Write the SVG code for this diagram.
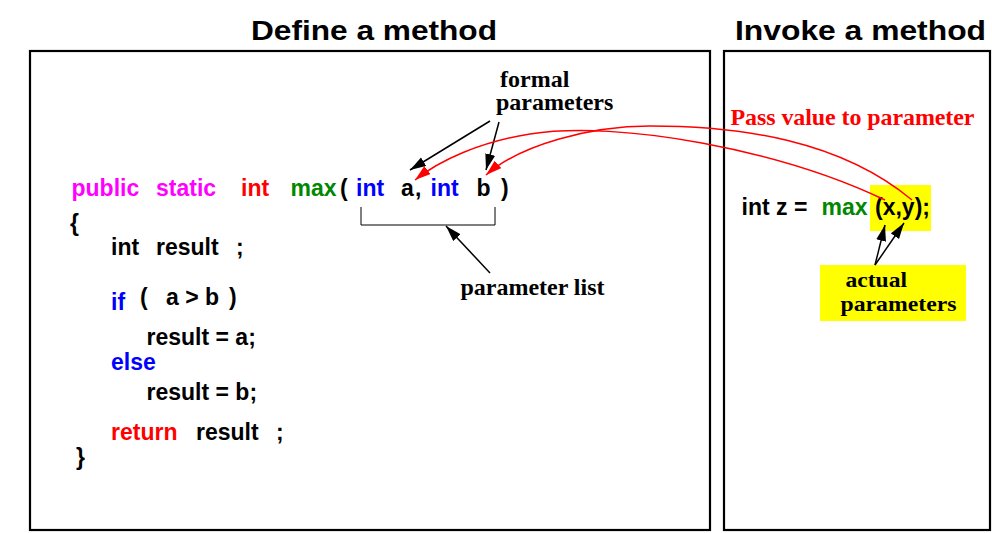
<svg xmlns="http://www.w3.org/2000/svg" width="992" height="533" viewBox="0 0 992 533">
<style>
.code{font-family:"Liberation Sans",Arial,sans-serif;font-weight:bold;font-size:23px;fill:#000}
.head{font-family:"Liberation Sans",Arial,sans-serif;font-weight:bold;font-size:28px;fill:#000}
.lab{font-family:"Liberation Serif","Times New Roman",serif;font-weight:bold;font-size:24px;fill:#000}
.lab2{font-family:"Liberation Serif","Times New Roman",serif;font-weight:bold;font-size:22px;fill:#000}
.mag{fill:#ff00ff}.red{fill:#ff0000}.grn{fill:#008800}.blu{fill:#0000ff}
.box{fill:#fff;stroke:#000;stroke-width:2.2}
.blk{fill:none;stroke:#000;stroke-width:1.5;marker-end:url(#ab)}
.rc{fill:none;stroke:#ff0000;stroke-width:1.5;marker-end:url(#ar)}
</style>
<defs>
<marker id="ab" markerUnits="userSpaceOnUse" markerWidth="18" markerHeight="12" refX="16" refY="5" orient="auto"><path d="M0,0 L16,5 L0,10 z" fill="#000"/></marker>
<marker id="ar" markerUnits="userSpaceOnUse" markerWidth="18" markerHeight="12" refX="16" refY="5" orient="auto"><path d="M0,0 L16,5 L0,10 z" fill="#ff0000"/></marker>
</defs>
<rect width="992" height="533" fill="#fff"/>
<g id="define-box">
<rect class="box" x="30" y="51" width="680" height="479"/>
<text class="head" x="251" y="39.5" textLength="246" lengthAdjust="spacingAndGlyphs">Define a method</text>
</g>
<g id="invoke-box">
<rect class="box" x="724" y="51" width="266" height="479"/>
<text class="head" x="735" y="39.5" textLength="251" lengthAdjust="spacingAndGlyphs">Invoke a method</text>
</g>
<g id="code">
<text class="code" y="196"><tspan class="mag" x="71.5">public</tspan><tspan class="mag" x="156">static</tspan><tspan class="red" x="241">int</tspan><tspan class="grn" x="290.5">max</tspan><tspan x="340">(</tspan><tspan class="blu" x="356">int</tspan><tspan x="401">a</tspan><tspan x="415">,</tspan><tspan class="blu" x="430.5">int</tspan><tspan x="476.5">b</tspan><tspan x="501">)</tspan></text>
<text class="code" x="70" y="231">{</text>
<text class="code" y="255"><tspan x="111">int</tspan><tspan x="156">result</tspan><tspan x="236">;</tspan></text>
<text class="code blu" x="111" y="310">if</text>
<text class="code" y="305"><tspan x="140">(</tspan><tspan x="166">a &gt; b</tspan><tspan x="229">)</tspan></text>
<text class="code" x="146.5" y="345">result = a;</text>
<text class="code blu" x="111" y="370">else</text>
<text class="code" x="146.5" y="400">result = b;</text>
<text class="code" y="440"><tspan class="red" x="111">return</tspan><tspan x="196">result</tspan><tspan x="276">;</tspan></text>
<text class="code" x="76" y="465">}</text>
</g>
<g id="bracket">
<path d="M361,207 V225 H495 V207" fill="none" stroke="#000" stroke-width="1"/>
</g>
<g id="formal-label">
<text class="lab" x="500" y="86.5">formal</text>
<text class="lab" x="496" y="110">parameters</text>
</g>
<g id="paramlist-label">
<text class="lab" x="460.5" y="295" textLength="144" lengthAdjust="spacing">parameter list</text>
</g>
<g id="call">
<rect x="870" y="185" width="61" height="46" fill="#ffff00"/>
<text class="code" y="215"><tspan x="741.5">int z =</tspan><tspan class="grn" x="821.5">max</tspan><tspan x="875">(x,y);</tspan></text>
</g>
<g id="actual-label">
<rect x="820" y="265" width="146" height="56" fill="#ffff00"/>
<text class="lab2" x="845.5" y="287" textLength="61.5" lengthAdjust="spacingAndGlyphs">actual</text>
<text class="lab2" x="840.5" y="311" textLength="116" lengthAdjust="spacingAndGlyphs">parameters</text>
</g>
<g id="pass-label">
<text class="lab red" x="730.5" y="125" textLength="244" lengthAdjust="spacing">Pass value to parameter</text>
</g>
<g id="connectors">
<path class="blk" d="M490,121 L410,170"/>
<path class="blk" d="M499,122 L486,170"/>
<path class="blk" d="M490,273 L446,226"/>
<path class="blk" d="M875,265 L885,225"/>
<path class="blk" d="M875,265 L904,223"/>
<path class="rc" d="M885,200 C780,150 620,120 530,134 C480,142 440,160 415,180"/>
<path class="rc" d="M912,200 C840,140 740,126 650,126 C590,126 520,145 486,175"/>
</g>
</svg>
